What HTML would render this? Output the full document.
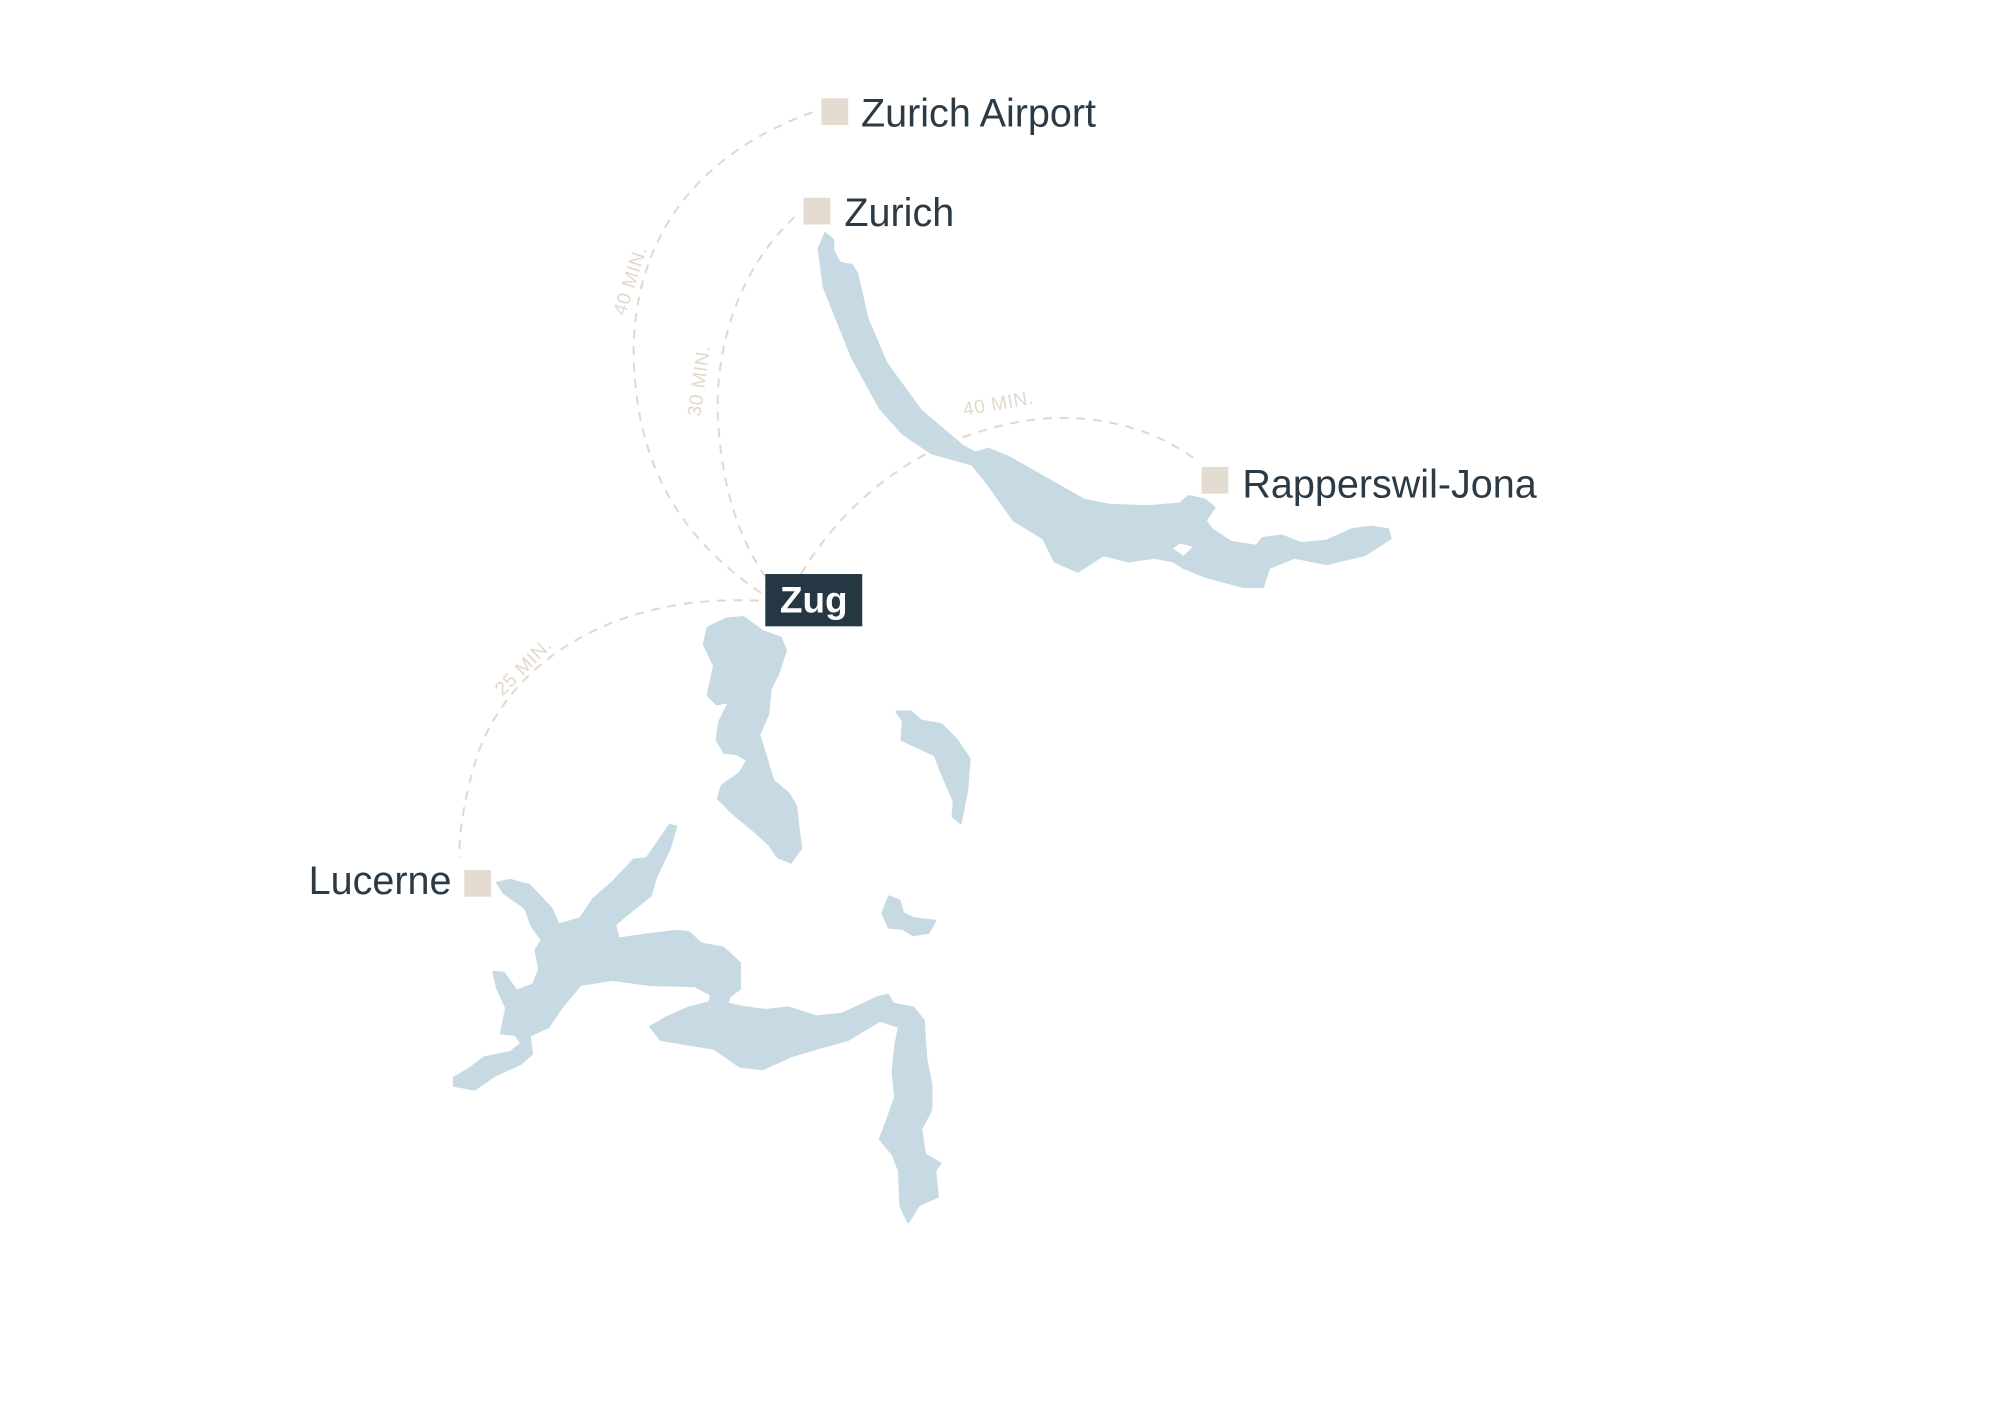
<!DOCTYPE html>
<html><head><meta charset="utf-8"><style>
html,body{margin:0;padding:0;background:#fff;width:2000px;height:1414px;overflow:hidden}
svg{display:block}
</style></head><body>
<svg width="2000" height="1414" viewBox="0 0 1568 1108.5" xmlns="http://www.w3.org/2000/svg">
<g fill="#c7dae3" stroke="#c7dae3" stroke-width="2" stroke-linejoin="round">
<path d="M647,183 L642,195 L646,225 L668,280 L690,320 L708,340 L730,355 L762,364 L775,380 L795,408 L818,422 L827,440 L845,448 L865,435 L885,440 L905,437 L920,440 L928,445 L945,452 L975,460 L990,460 L995,445 L1015,437 L1040,442 L1070,435 L1090,422 L1088,415 L1075,413 L1060,415 L1040,424 L1020,426 L1005,420 L990,422 L985,428 L965,425 L950,415 L945,408 L952,398 L945,392 L932,389 L925,395 L900,397 L870,396 L850,392 L820,375 L790,358 L775,352 L765,355 L755,350 L722,322 L695,285 L680,250 L672,215 L668,208 L658,206 L653,196 L653,188 Z M925,425 L937,428 L928,437 L918,430 Z"/>
<path d="M555,492 L570,485 L583,484 L598,495 L612,500 L616,510 L610,528 L604,540 L602,560 L595,576 L600,592 L606,612 L618,622 L624,632 L626,650 L628,665 L620,676 L610,672 L603,662 L592,652 L575,638 L563,626 L566,616 L580,606 L586,596 L578,591 L568,590 L562,580 L564,566 L572,550 L562,552 L555,545 L560,522 L552,505 Z"/>
<path d="M356,851 L372,854 L388,843 L408,834 L417,826 L415,812 L430,805 L440,790 L455,772 L480,768 L510,772 L545,773 L558,780 L556,786 L540,790 L522,798 L510,805 L518,815 L535,818 L560,822 L580,836 L598,838 L620,828 L640,822 L665,815 L690,800 L705,805 L702,820 L700,840 L702,860 L695,880 L690,893 L700,905 L705,918 L706,945 L712,958 L720,945 L735,938 L733,918 L737,912 L725,905 L722,885 L730,870 L730,850 L726,830 L724,800 L716,790 L700,787 L696,780 L688,782 L660,795 L640,797 L618,790 L600,792 L585,790 L570,787 L572,781 L580,775 L580,755 L567,743 L550,740 L540,731 L530,730 L505,733 L485,736 L482,725 L490,718 L510,702 L514,688 L525,665 L530,648 L525,647 L507,673 L497,674 L480,692 L465,705 L455,720 L438,725 L432,712 L415,694 L400,690 L390,692 L395,700 L412,712 L417,726 L425,737 L420,745 L423,760 L418,772 L405,777 L395,763 L387,762 L390,775 L397,790 L393,810 L404,811 L409,818 L400,825 L380,829 L368,838 L356,845 Z"/>
<path d="M703,558 L714,558 L722,565 L738,568 L750,580 L760,595 L758,620 L753,645 L747,640 L748,628 L740,610 L733,592 L720,586 L707,580 L708,565 Z"/>
<path d="M697,703 L705,706 L708,716 L716,720 L733,722 L728,731 L716,733 L708,728 L697,727 L692,716 Z"/>
</g>
<g fill="none" stroke="#e2d9cc" stroke-width="1.6" stroke-dasharray="7,6">
<path d="M637,88 C520,130 490,220 498,300 C505,380 545,430 597,465"/>
<path d="M623,170 C575,215 560,280 563,330 C566,380 578,420 600,452"/>
<path d="M628,450 C670,380 740,335 820,328 C870,325 910,340 937,360"/>
<path d="M595,471 C480,465 400,520 375,590 C365,620 360,650 360,672"/>
</g>
<g fill="#e2d9cc" font-family="Liberation Sans, sans-serif" font-size="15" letter-spacing="0.5">
<text transform="translate(490,248) rotate(-72)">40 MIN.</text>
<text transform="translate(549,327) rotate(-82)">30 MIN.</text>
<text transform="translate(756,326) rotate(-10)">40 MIN.</text>
<text transform="translate(394,546) rotate(-45)">25 MIN.</text>
</g>
<g fill="#e4dcd1">
<rect x="644" y="77" width="21" height="21"/>
<rect x="630" y="155" width="21" height="21"/>
<rect x="942" y="366" width="21" height="21"/>
<rect x="364" y="682" width="21" height="21"/>
</g>
<g fill="#2b3a45" font-family="Liberation Sans, sans-serif" font-size="31">
<text x="675" y="99">Zurich Airport</text>
<text x="662" y="177">Zurich</text>
<text x="974" y="390">Rapperswil-Jona</text>
<text x="354" y="701" text-anchor="end">Lucerne</text>
</g>
<rect x="600" y="450" width="76" height="41" fill="#253743"/>
<text x="638" y="480" fill="#fff" font-family="Liberation Sans, sans-serif" font-weight="bold" font-size="29" text-anchor="middle">Zug</text>
</svg>
</body></html>
